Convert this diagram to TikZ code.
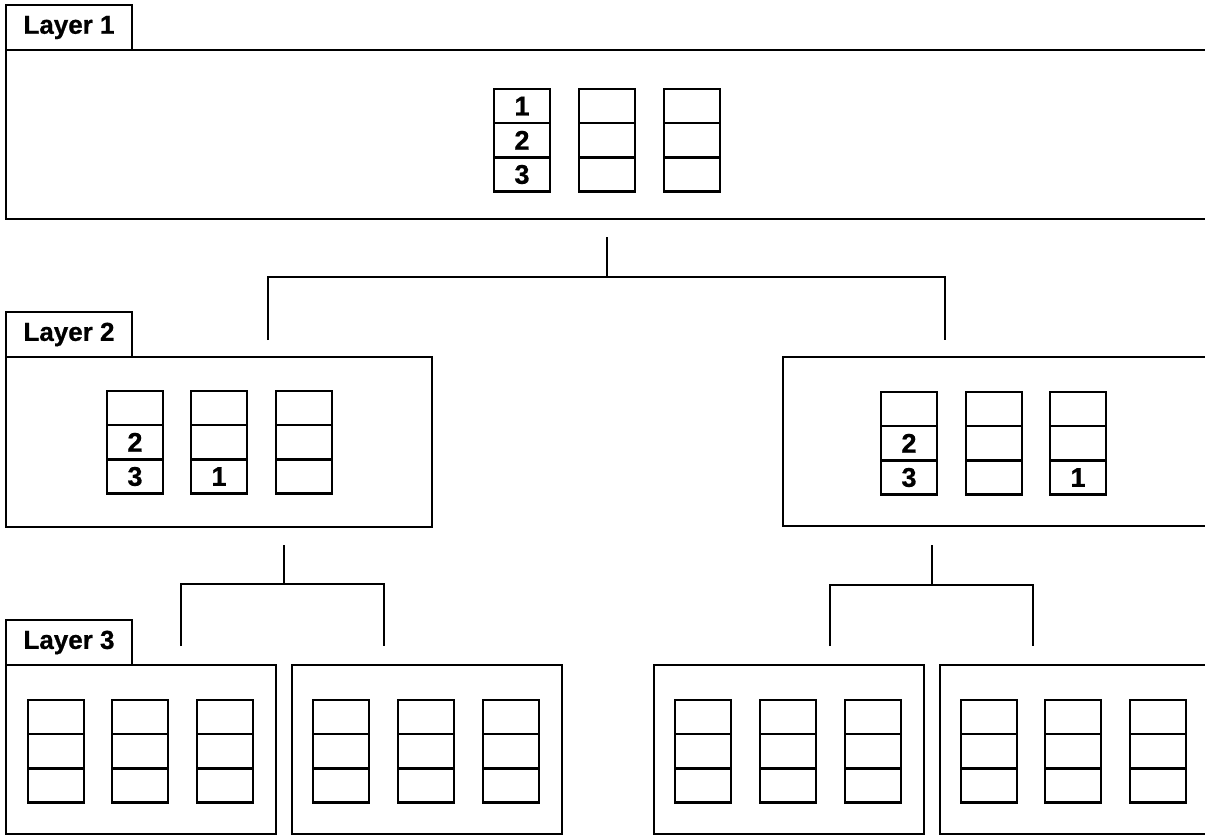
\documentclass[tikz,border=0pt]{standalone}
\usepackage{fontspec}
\setmainfont{Liberation Sans}[BoldFeatures={FakeBold=0.8}]
\begin{document}
\begin{tikzpicture}[x=1pt,y=-1pt,
  frame/.style={draw, line width=2.6pt, anchor=north west, inner sep=0pt, outer sep=0pt},
  tab/.style={draw, line width=2.6pt, anchor=south west, inner sep=0pt, outer sep=0pt, minimum width=126pt, minimum height=45pt, font=\bfseries\fontsize{26}{26}\selectfont},
  cell/.style={draw, line width=2.4pt, inner sep=0pt, outer sep=0pt, minimum width=56pt, minimum height=34.2pt, font=\bfseries\fontsize{27}{27}\selectfont},
  link/.style={line width=2.5pt}]
\clip (0,0) rectangle (1205,836);
\fill[white] (0,0) rectangle (1205,836);
\newcommand\stk[6]{%
  \node[cell, anchor=north west] (#1a) at (#2,#3) {#4};
  \node[cell, anchor=north] (#1b) at (#1a.south) {#5};
  \node[cell, anchor=north] (#1c) at (#1b.south) {#6};}
% Layer 1
\node[frame, minimum width=1220pt, minimum height=169pt] (L1) at (6,50) {};
\node[tab] (T1) at (6,50) {Layer 1};
\stk{pa}{494}{89}{1}{2}{3}
\stk{pb}{579}{89}{}{}{}
\stk{pc}{664}{89}{}{}{}
% Layer 2
\node[frame, minimum width=426pt, minimum height=170pt] (L2a) at (6,357) {};
\node[tab] (T2) at (6,357) {Layer 2};
\stk{qa}{107}{391}{}{2}{3}
\stk{qb}{191}{391}{}{}{1}
\stk{qc}{276}{391}{}{}{}
\node[frame, minimum width=440pt, minimum height=169pt] (L2b) at (783,357) {};
\stk{ra}{881}{392}{}{2}{3}
\stk{rb}{966}{392}{}{}{}
\stk{rc}{1050}{392}{}{}{1}
% Layer 3
\node[frame, minimum width=270pt, minimum height=169pt] (L3a) at (6,665) {};
\node[tab] (T3) at (6,665) {Layer 3};
\stk{sa}{28}{700}{}{}{}
\stk{sb}{112}{700}{}{}{}
\stk{sc}{197}{700}{}{}{}
\node[frame, minimum width=270pt, minimum height=169pt] (L3b) at (292,665) {};
\stk{ta}{313}{700}{}{}{}
\stk{tb}{398}{700}{}{}{}
\stk{tc}{483}{700}{}{}{}
\node[frame, minimum width=270pt, minimum height=169pt] (L3c) at (654,665) {};
\stk{ua}{675}{700}{}{}{}
\stk{ub}{760}{700}{}{}{}
\stk{uc}{845}{700}{}{}{}
\node[frame, minimum width=290pt, minimum height=169pt] (L3d) at (940,665) {};
\stk{va}{961}{700}{}{}{}
\stk{vb}{1045}{700}{}{}{}
\stk{vc}{1130}{700}{}{}{}
% connectors
\coordinate (c1) at (607,237);
\coordinate (j1) at (607,277);
\coordinate (e1a) at (268,340);
\coordinate (e1b) at (945,340);
\draw[link] (c1) -- (j1);
\draw[link] (e1a) |- (j1) -| (e1b);
\coordinate (c2) at (284,545);
\coordinate (j2) at (284,584);
\coordinate (e2a) at (181,646);
\coordinate (e2b) at (384,646);
\draw[link] (c2) -- (j2);
\draw[link] (e2a) |- (j2) -| (e2b);
\coordinate (c3) at (932,545);
\coordinate (j3) at (932,585);
\coordinate (e3a) at (830,646);
\coordinate (e3b) at (1033,646);
\draw[link] (c3) -- (j3);
\draw[link] (e3a) |- (j3) -| (e3b);
\end{tikzpicture}
\end{document}
